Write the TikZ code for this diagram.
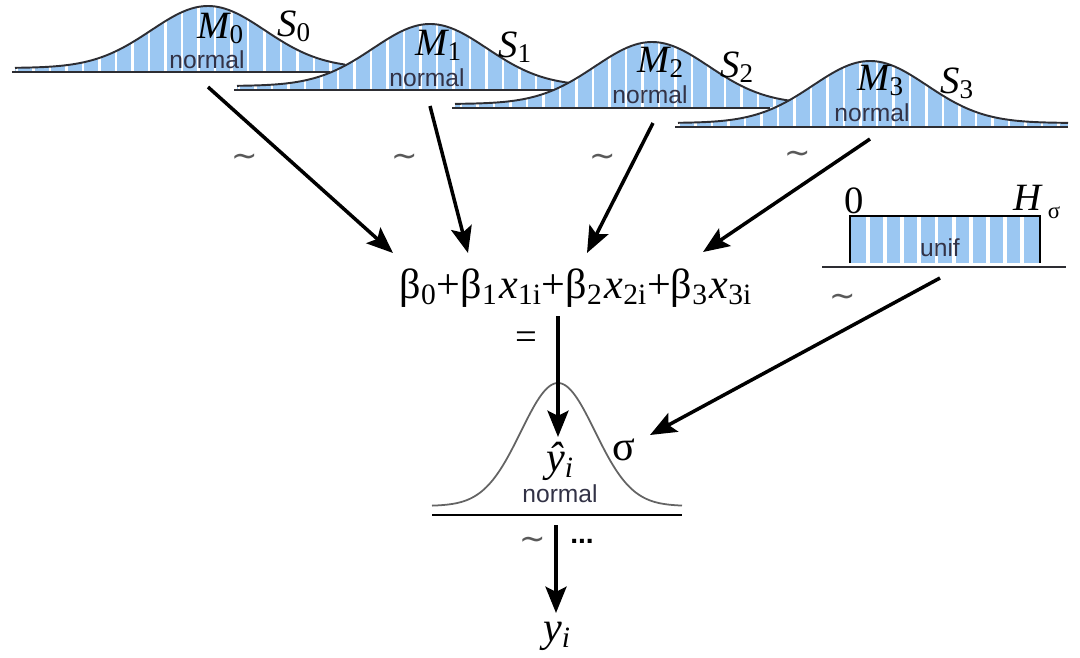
\documentclass[tikz,border=0pt]{standalone}
\usepackage{fontspec}
\setmainfont{Liberation Serif}
\newfontfamily\sansf{Liberation Sans}
\newfontfamily\dvs{DejaVu Sans}
\usetikzlibrary{arrows.meta}
\definecolor{barblue}{RGB}{155,199,242}
\definecolor{curvegray}{RGB}{45,45,50}
\definecolor{labgray}{RGB}{50,50,70}
\definecolor{lightcurve}{RGB}{100,100,100}
\tikzset{
  arr/.style={line width=2pt, -{Stealth[length=15pt,width=12pt,inset=3pt]}},
  curve/.style={draw=curvegray, line width=1.1pt},
  baseln/.style={draw=curvegray, line width=1.5pt},
  mlab/.style={font=\fontsize{22}{24}\selectfont\itshape, inner sep=0pt, anchor=base west},
  nlab/.style={font=\sansf\fontsize{14}{16}\selectfont, text=labgray, inner sep=0pt},
  tlab/.style={font=\dvs\fontsize{18}{20}\selectfont, text=black!65, inner sep=0pt},
  big/.style={font=\fontsize{24}{28}\selectfont, inner sep=0pt},
}
% #1 center x, #2 base y, #3 xmin, #4 xmax, #5 index, #6 baseline end
\newcommand\gdist[6]{%
  \begin{scope}
    \clip (#3,#2) -- plot[domain=#3:#4,samples=100] (\x,{#2-3-62*exp(-0.5*((\x-#1)/57)^2)}) -- (#4,#2) -- cycle;
    \fill[barblue] (#3,#2+1) rectangle (#4,#2-70);
    \foreach \k in {-14,...,14} \draw[white,line width=1.7pt] ({#1+\k*16.5+7},#2+2) -- ({#1+\k*16.5+7},#2-72);
  \end{scope}
  \draw[curve] plot[domain=#3:#4,samples=100] (\x,{#2-3-62*exp(-0.5*((\x-#1)/57)^2)});
  \draw[baseln] (#3-3,#2+1) -- (#6,#2+1);
}
\begin{document}
\begin{tikzpicture}[x=0.02cm,y=-0.02cm]
\useasboundingbox (0,0) rectangle (1080,657);
% top normal distributions
\gdist{208}{71}{15}{345}{0}{330}
\gdist{430}{89}{237}{570}{1}{560}
\gdist{652}{107}{455}{790}{2}{770}
\gdist{870}{126}{678}{1068}{3}{1068}
% labels of the distributions
\node[mlab] (M0) at (197,38) {M\textsubscript{\upshape 0}};
\node[mlab] (S0) at (277,36) {S\textsubscript{\upshape 0}};
\node[nlab] (N0) at (207,60) {normal};
\node[mlab] (M1) at (415,55) {M\textsubscript{\upshape 1}};
\node[mlab] (S1) at (498,57) {S\textsubscript{\upshape 1}};
\node[nlab] (N1) at (427,78) {normal};
\node[mlab] (M2) at (637,72) {M\textsubscript{\upshape 2}};
\node[mlab] (S2) at (720,77) {S\textsubscript{\upshape 2}};
\node[nlab] (N2) at (650,95) {normal};
\node[mlab] (M3) at (857,90) {M\textsubscript{\upshape 3}};
\node[mlab] (S3) at (940,93) {S\textsubscript{\upshape 3}};
\node[nlab] (N3) at (872,113) {normal};
% uniform
\fill[barblue] (851,217) rectangle (1039,263);
\foreach \k in {1,...,10} \draw[white,line width=2.2pt] ({851+\k*17.1},217) -- ({851+\k*17.1},263);
\draw[line width=1pt] (850,263) -- (850,216) -- (1040,216) -- (1040,263);
\draw[baseln,line width=1.3pt] (822,267) -- (1066,267);
\node[big,font=\fontsize{22}{24}\selectfont] (zero) at (854,201) {0};
\node[mlab] (H) at (1013,210) {H};
\node[inner sep=0pt,font=\fontsize{13}{15}\selectfont] (Hs) at (1054,213) {σ};
\node[nlab] (U) at (940,248) {unif};
% equation
\node[big] (eq) at (576,288) {β\textsubscript{0}+β\textsubscript{1}\kern1pt\textit{x}\textsubscript{1i}+β\textsubscript{2}\kern1pt\textit{x}\textsubscript{2i}+β\textsubscript{3}\kern1pt\textit{x}\textsubscript{3i}};
% bottom normal
\draw[draw=lightcurve,line width=1pt] plot[domain=432:682,samples=120] (\x,{506-123*exp(-0.5*((\x-558)/37)^2)});
\draw[line width=1.1pt] (432,515) -- (682,515);
\node[big] (yhat) at (560,461) {\textit{ŷ}\textsubscript{\itshape i}};
\node[nlab] (N4) at (560,494) {normal};
\node[big] (sig) at (624,450) {σ};
\node[big] (y) at (557,636) {\textit{y}\textsubscript{\itshape i}};
% tildes and other signs
\node[tlab] (t0) at (245,160) {∼};
\node[tlab] (t1) at (405,160) {∼};
\node[tlab] (t2) at (603,160) {∼};
\node[tlab] (t3) at (798,157) {∼};
\node[tlab] (t4) at (843,300) {∼};
\node[tlab] (t5) at (533,543) {∼};
\node[big,font=\fontsize{22}{24}\selectfont] (eqs) at (526,341) {=};
\node[big,font=\sansf\bfseries\fontsize{16}{18}\selectfont] (dots) at (582,541) {...};
% arrow ends
\coordinate (a0) at (208,87);  \coordinate (b0) at (393,253);
\coordinate (a1) at (430,106); \coordinate (b1) at (468,253);
\coordinate (a2) at (653,123); \coordinate (b2) at (587,253);
\coordinate (a3) at (870,139); \coordinate (b3) at (703,252);
\coordinate (a4) at (940,278); \coordinate (b4) at (650,435);
\coordinate (a5) at (558,316); \coordinate (b5) at (558,437);
\coordinate (a6) at (556,525); \coordinate (b6) at (556,613);
\draw[arr] (a0) -- (b0);
\draw[arr] (a1) -- (b1);
\draw[arr] (a2) -- (b2);
\draw[arr] (a3) -- (b3);
\draw[arr] (a4) -- (b4);
\draw[arr] (a5) -- (b5);
\draw[arr] (a6) -- (b6);
\end{tikzpicture}
\end{document}
